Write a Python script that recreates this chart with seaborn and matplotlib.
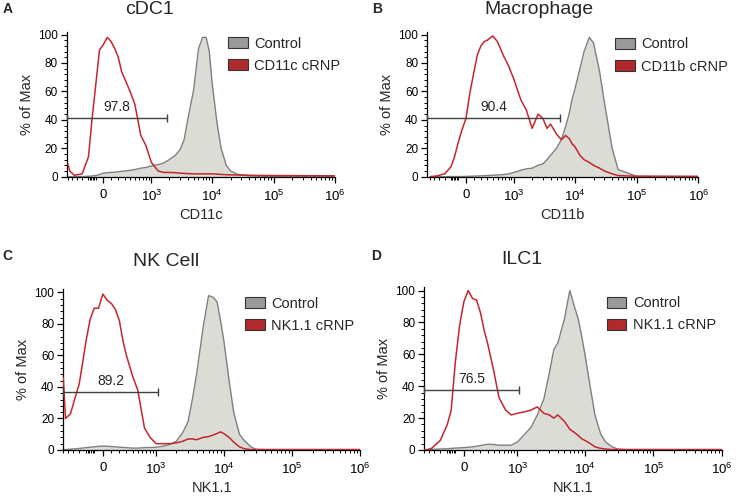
import numpy as np
import pandas as pd
import seaborn as sns
import matplotlib.pyplot as plt
from matplotlib.patches import Patch
from matplotlib.ticker import FixedLocator, FixedFormatter, MultipleLocator

# fluorescence intensity grid (shared by all histograms)
x_grid = [-600, -550, -450, -300, -200, -150, -100, -50, 0, 50, 100, 150, 200, 250, 300,
          400, 500, 650, 800, 1000, 1300, 1600, 2000, 2500, 3000, 3500, 4000, 5000, 6000,
          7000, 8000, 9000, 10000, 12000, 14000, 17000, 20000, 25000, 30000,
          40000, 50000, 100000, 1000000]

# % of Max
ctrl_A = [0, 0, 0, 0.1, 0.3, 0.5, 0.8, 1.5, 2.5, 2.8, 3, 3.2, 3.5, 3.8, 4,
          4.5, 5, 6, 6.5, 7.5, 8.5, 9.5, 12, 15, 19, 26, 40, 61, 90,
          98, 98, 88, 66, 38, 20, 8, 4, 2, 1.2, 0.6, 0.4, 0.2, 0.1]
crnp_A = [9, 4, 1, 2, 14, 40, 64, 89, 93, 98, 95, 90, 84, 74, 69,
          60, 51, 29, 22, 10, 4, 3, 3, 2.8, 2.5, 2.3, 2.2, 2, 2,
          2, 2, 2, 2, 1.8, 1.6, 1.4, 1.3, 1.2, 1.1, 1, 0.9, 0.8, 0.6]

ctrl_B = [0, 0, 0, 0, 0.1, 0.1, 0.1, 0.15, 0.2, 0.3, 0.4, 0.5, 0.6, 0.7, 0.8,
          1, 1.2, 1.5, 2, 3, 4.5, 5.5, 6, 8, 9, 12, 15, 20, 26,
          35, 44, 55, 62, 76, 88, 98, 94, 74, 52, 20, 5, 0.3, 0.1]
crnp_B = [0.1, 0.2, 0.5, 2, 7, 14, 24, 33, 41, 59, 73, 86, 92, 95, 96,
          99, 95, 85, 78, 68, 54, 47, 34, 44, 41, 34, 37, 30, 26,
          29, 27, 23, 21, 15, 12, 10, 8, 6, 4, 2, 0.8, 0.3, 0.2]

ctrl_C = [0.2, 0.3, 0.5, 1, 1.5, 1.8, 2, 2.3, 2.5, 2.4, 2.2, 2, 1.8, 1.6, 1.5,
          1.2, 1.2, 1.5, 1.6, 1.7, 2.5, 3.5, 5.5, 11, 18, 33, 48, 78, 98,
          97, 94, 82, 70, 44, 24, 10, 6, 2, 0.4, 0.2, 0.2, 0.2, 0.1]
crnp_C = [46, 20, 23, 42, 70, 83, 90, 90, 99, 95, 93, 89, 82, 69, 60,
          47, 38, 14, 8, 4, 4, 4, 4.5, 5.5, 7, 7, 6.5, 8, 8.5,
          9.5, 10.5, 11.5, 10.5, 8, 5, 2, 0.8, 0.3, 0.3, 0.3, 0.3, 0.3, 0.3]

ctrl_D = [0.2, 0.3, 0.4, 0.6, 0.8, 1, 1.2, 1.3, 1.5, 1.7, 2, 2.4, 2.8, 3.2, 3.6,
          3.5, 3, 3, 3, 5, 10, 14, 22, 32, 48, 63, 67, 82, 100,
          90, 82, 71, 60, 39, 22, 10, 5, 2, 0.6, 0.2, 0.2, 0.2, 0.1]
crnp_D = [0, 0, 1, 6, 16, 25, 55, 78, 93, 100, 95, 94, 86, 75, 67,
          50, 33, 25, 22, 23, 24, 25, 27, 23, 22, 20, 22, 18, 13,
          11, 9, 7, 6, 4, 2, 1, 0.6, 0.3, 0.3, 0.3, 0.3, 0.3, 0.3]

letters = ['A', 'B', 'C', 'D']
titles = ['cDC1', 'Macrophage', 'NK Cell', 'ILC1']
xlabels = ['CD11c', 'CD11b', 'NK1.1', 'NK1.1']
crnp_names = ['CD11c cRNP', 'CD11b cRNP', 'NK1.1 cRNP', 'NK1.1 cRNP']
gate_vals = ['97.8', '90.4', '89.2', '76.5']
gate_lo = [-630, -680, -600, -600]
gate_hi = [1800, 5800, 1050, 1070]
gate_y = [41.5, 41.5, 36.7, 37.7]

major_ticks = [0, 1e3, 1e4, 1e5, 1e6]
major_labels = ['0', '$10^{3}$', '$10^{4}$', '$10^{5}$', '$10^{6}$']

sns.set_style('ticks')
plt.rcParams['font.family'] = ['Liberation Sans', 'DejaVu Sans']
plt.rcParams['mathtext.fontset'] = 'custom'
plt.rcParams['mathtext.rm'] = 'Liberation Sans'

W = 340.0


def fwd(v):
    return np.arcsinh(np.asarray(v, dtype=float) / W)


def inv(v):
    return W * np.sinh(np.asarray(v, dtype=float))


RED = '#c4262e'
RED_PATCH = '#b0292c'
FILL = '#dcdcd7'
EDGE = '#7f7f7f'

df = pd.DataFrame({'x': x_grid,
                   'ctrl_A': ctrl_A, 'crnp_A': crnp_A,
                   'ctrl_B': ctrl_B, 'crnp_B': crnp_B,
                   'ctrl_C': ctrl_C, 'crnp_C': crnp_C,
                   'ctrl_D': ctrl_D, 'crnp_D': crnp_D})

fig = plt.figure(figsize=(7.36, 4.99), dpi=100)

# axes rectangles in figure fraction
rects = [[0.0906, 0.6459, 0.3645, 0.2906],
         [0.5806, 0.6459, 0.3682, 0.2906],
         [0.0860, 0.0982, 0.4035, 0.3220],
         [0.5765, 0.0982, 0.4041, 0.3260]]
xleft = [-630, -680, -600, -600]
leg_pos = [(0.601, 0.965), (0.693, 0.96), (0.612, 0.955), (0.613, 0.945)]
title_pos = [(149, 10), (539, 10), (166, 262), (522, 259)]
letter_pos = [(3, 9), (372, 9), (2, 256), (371, 256)]

neg_minor = [-600, -500, -400, -300, -200, -180, -160, -140, -120, -100]
pos_minor = [m * 10 ** k for k in (2, 3, 4, 5) for m in range(2, 10)] + [100]

for i, key in enumerate(letters):
    ax = fig.add_axes(rects[i])
    ax.fill_between(df['x'], 0, df['ctrl_' + key], color=FILL, lw=0, zorder=1)
    sns.lineplot(data=df, x='x', y='ctrl_' + key, color=EDGE, lw=1.0, ax=ax, zorder=2)
    sns.lineplot(data=df, x='x', y='crnp_' + key, color=RED, lw=1.1, ax=ax, zorder=3)

    ax.set_xscale('function', functions=(fwd, inv))
    ax.set_xlim(xleft[i], 1e6)
    ax.set_ylim(0, 102)

    ax.xaxis.set_major_locator(FixedLocator(major_ticks))
    ax.xaxis.set_major_formatter(FixedFormatter(major_labels))
    ax.xaxis.set_minor_locator(FixedLocator(neg_minor + pos_minor))
    ax.yaxis.set_major_locator(FixedLocator([0, 20, 40, 60, 80, 100]))
    ax.yaxis.set_minor_locator(MultipleLocator(4))
    ax.tick_params(axis='both', which='major', length=4.5, width=0.9, labelsize=8.5,
                   color='black', labelcolor='black')
    ax.tick_params(axis='both', which='minor', length=2.5, width=0.7, color='black')
    ax.tick_params(axis='x', which='major', pad=4, labelsize=9.5)
    ax.tick_params(axis='y', which='major', pad=2)

    sns.despine(ax=ax)
    for s in ('left', 'bottom'):
        ax.spines[s].set_color('black')
        ax.spines[s].set_linewidth(0.9)

    ax.set_xlabel(xlabels[i], fontsize=10.5, labelpad=3)
    ax.set_ylabel('% of Max', fontsize=10.5, labelpad=3)

    # gate bar with end caps
    gx = [gate_lo[i], gate_hi[i]]
    gy = [gate_y[i], gate_y[i]]
    ax.plot(gx, gy, color='#404040', lw=1.0, zorder=4, clip_on=False)
    ax.plot(gx, gy, ls='none', marker='|', ms=6, mew=1.0, color='#404040',
            zorder=4, clip_on=False)
    mid = float(inv((fwd(gate_lo[i]) + fwd(gate_hi[i])) / 2))
    ax.text(mid, gate_y[i] + 2.5, gate_vals[i], ha='center', va='bottom', fontsize=10)

    handles = [Patch(facecolor='#9a9a9a', edgecolor='#333333', lw=0.8, label='Control'),
               Patch(facecolor=RED_PATCH, edgecolor='#333333', lw=0.8, label=crnp_names[i])]
    ax.legend(handles=handles, loc='upper left', bbox_to_anchor=leg_pos[i],
              frameon=False, fontsize=10.5, handlelength=1.35, handleheight=0.75,
              handletextpad=0.45, labelspacing=0.55, borderaxespad=0, borderpad=0)

    fig.text(title_pos[i][0] / 736, 1 - title_pos[i][1] / 499, titles[i],
             ha='center', va='center', fontsize=14)
    fig.text(letter_pos[i][0] / 736, 1 - letter_pos[i][1] / 499, key,
             ha='left', va='center', fontsize=10, fontweight='bold')

fig.savefig('out.png', dpi=100)
